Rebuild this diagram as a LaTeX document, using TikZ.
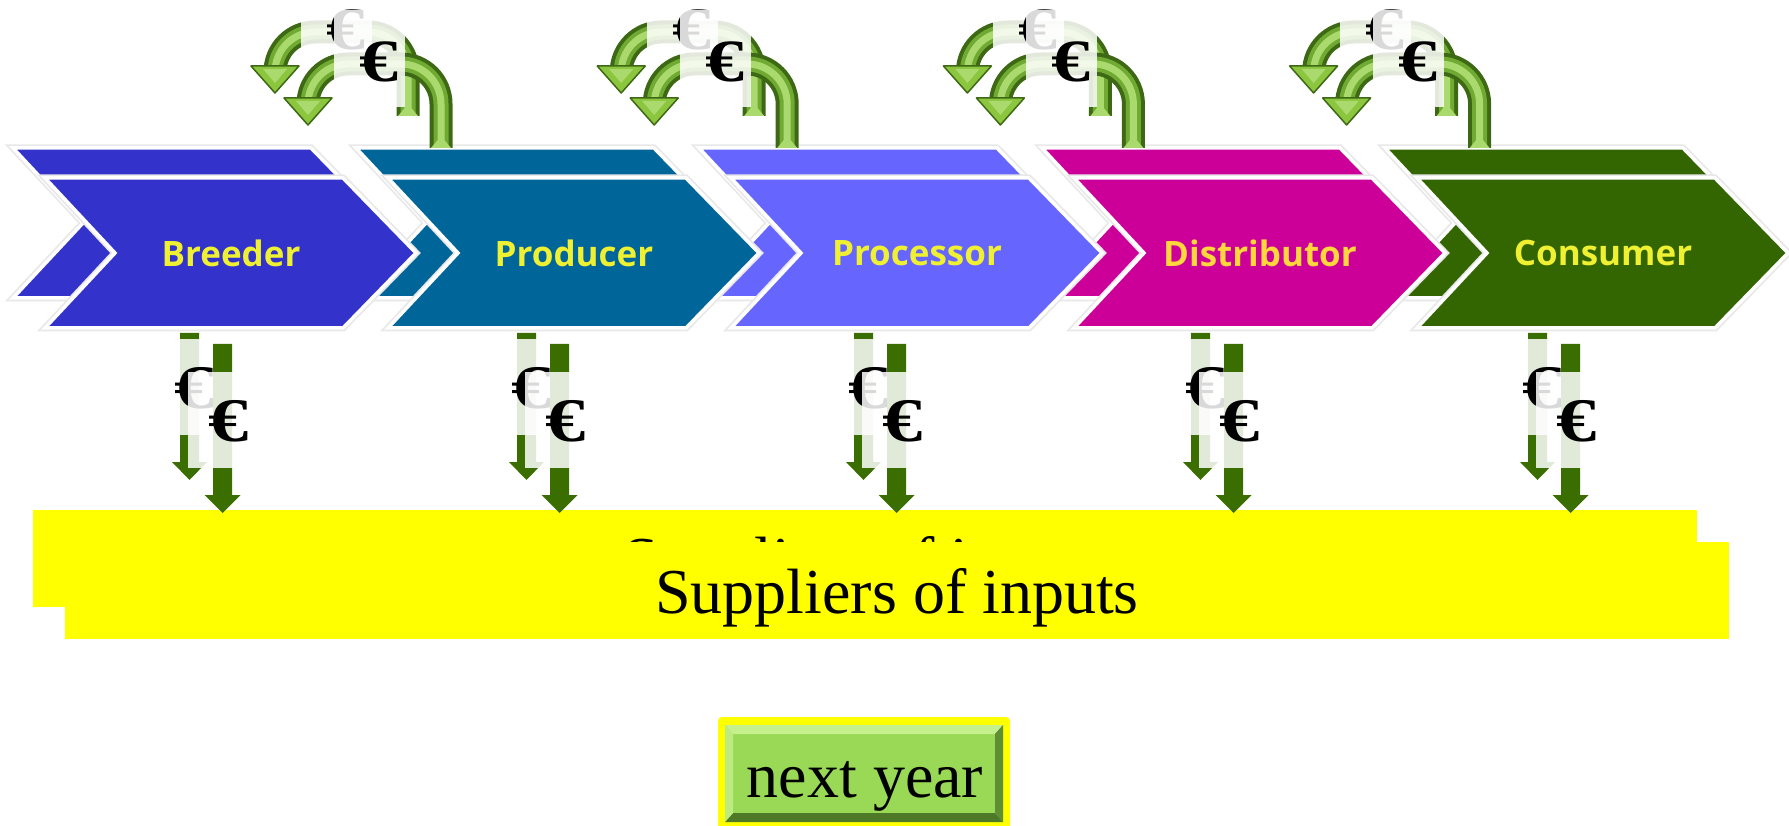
\documentclass[tikz,border=0pt]{standalone}
\usepackage{fontspec}
\setmainfont{Liberation Serif}
\newfontfamily\chevfont{Open Sans}
\definecolor{cA}{RGB}{51,51,204}
\definecolor{cB}{RGB}{0,102,153}
\definecolor{cC}{RGB}{102,102,255}
\definecolor{cD}{RGB}{204,0,153}
\definecolor{cE}{RGB}{51,102,0}
\definecolor{chevtext}{RGB}{240,240,50}
\definecolor{chevtextD}{RGB}{255,214,60}
\definecolor{tubedark}{RGB}{62,105,20}
\definecolor{tubemid}{RGB}{112,170,50}
\definecolor{tubelight}{RGB}{170,218,110}
\definecolor{headgreen}{RGB}{140,198,63}
\definecolor{downgreen}{RGB}{59,110,0}
\definecolor{supyellow}{RGB}{255,255,0}
\definecolor{btnmain}{RGB}{153,217,85}
\definecolor{btnlight}{RGB}{198,240,140}
\definecolor{btndark}{RGB}{78,122,40}
\definecolor{btnside}{RGB}{95,143,53}
\begin{document}
\begin{tikzpicture}[x=1pt,y=-1pt,
  glow/.style={draw=black!9, line width=7pt, line join=miter},
  chevline/.style={draw=white, line width=3.5pt, line join=miter},
  chevlabel/.style={font=\chevfont\bfseries\fontsize{35}{35}\selectfont, text=chevtext, inner sep=0pt},
  tubeA/.style={draw=tubedark, line width=23pt, rounded corners=40pt},
  tubeB/.style={draw=tubemid, line width=15pt, rounded corners=40pt},
  tubeC/.style={draw=tubelight, line width=7pt, rounded corners=40pt},
  headstyle/.style={fill=headgreen, draw=tubedark, line width=1.5pt, line join=round},
  veil/.style={fill=white, fill opacity=0.85},
  eurotop/.style={font=\bfseries\fontsize{60}{60}\selectfont, inner sep=0pt, xscale=1.3, transform shape},
  eurodown/.style={font=\bfseries\fontsize{62}{62}\selectfont, inner sep=0pt, xscale=1.3, transform shape},
  downarrow/.style={fill=downgreen},
  bigtext/.style={font=\fontsize{64}{64}\selectfont, inner sep=0pt, anchor=base}
]
\useasboundingbox (0,0) rectangle (1789,826);

% ---------- chevrons: ghost (back) layer ----------
\foreach \c [count=\i from 0] in {cA,cB,cC,cD,cE} {
  \pgfmathsetmacro{\L}{45+343*\i-32}
  \path[glow] (\L,148) -- ++(298,0) -- ++(73,75) -- ++(-73,75) -- ++(-298,0) -- ++(70,-75) -- cycle;
  \path[fill=\c, chevline] (\L,148) -- ++(298,0) -- ++(73,75) -- ++(-73,75) -- ++(-298,0) -- ++(70,-75) -- cycle;
}
% ---------- chevrons: front layer ----------
\foreach \c [count=\i from 0] in {cA,cB,cC,cD,cE} {
  \pgfmathsetmacro{\L}{45+343*\i}
  \path[glow] (\L,178) -- ++(298,0) -- ++(73,75) -- ++(-73,75) -- ++(-298,0) -- ++(70,-75) -- cycle;
  \path[fill=\c, chevline] (\L,178) -- ++(298,0) -- ++(73,75) -- ++(-73,75) -- ++(-298,0) -- ++(70,-75) -- cycle;
}
\node[chevlabel] (breeder) at (231,253) {Breeder};
\node[chevlabel] (producer) at (574,253) {Producer};
\node[chevlabel] (processor) at (917,253) {Processor};
\node[chevlabel, text=chevtextD] (distributor) at (1260,253) {Distributor};
\node[chevlabel] (consumer) at (1603,253) {Consumer};

% ---------- suppliers bar ----------
\fill[supyellow] (33,510) rectangle (1697,607);
\node[bigtext] (supghost) at (865,581) {Suppliers of inputs};
\fill[supyellow] (65,542) rectangle (1729,639);
\node[bigtext] (suppliers) at (897,613) {Suppliers of inputs};

% ---------- curved money arrows (top) ----------
\foreach \s [count=\k] in {441,787.2,1133.4,1479.6} {
  \foreach \dx/\dy/\nm in {-33/-32/g,0/0/f} {
    \coordinate (ta\nm\k) at (\s+\dx,148+\dy);
    \coordinate (tb\nm\k) at (\s+\dx,64+\dy);
    \coordinate (tc\nm\k) at (\s+\dx-133,64+\dy);
    \coordinate (td\nm\k) at (\s+\dx-133,100+\dy);
    \draw[tubeA] (ta\nm\k) -- (tb\nm\k) -- (tc\nm\k) -- (td\nm\k);
    \draw[tubeB] (ta\nm\k) -- (tb\nm\k) -- (tc\nm\k) -- (td\nm\k);
    \draw[tubeC] (ta\nm\k) -- (tb\nm\k) -- (tc\nm\k) -- (td\nm\k);
    \fill[tubelight] (\s+\dx-10,148+\dy) -- (\s+\dx+10,148+\dy) -- (\s+\dx,136+\dy) -- cycle;
    \path[headstyle] (\s+\dx-157,98+\dy) -- (\s+\dx-109,98+\dy) -- (\s+\dx-133,125+\dy) -- cycle;
    \fill[tubelight] (\s+\dx-145,101+\dy) -- (\s+\dx-121,101+\dy) -- (\s+\dx-133,115+\dy) -- cycle;
    \fill[veil] (\s+\dx-107,10+\dy) rectangle (\s+\dx-36,107+\dy);
    \node[eurotop] (et\nm\k) at (\s+\dx-62,62+\dy) {€};
  }
}

% ---------- down money arrows ----------
\foreach \d [count=\k] in {222.5,559.5,896.5,1233.5,1570.5} {
  % ghost
  \pgfmathsetmacro{\g}{\d-33}
  \coordinate (dg\k) at (\g,333);
  \path[downarrow] (\g-9.5,333) -- (\g+9.5,333) -- (\g+9.5,462) -- (\g+17.5,462) -- (\g,480) -- (\g-17.5,462) -- (\g-9.5,462) -- cycle;
  \fill[veil] (\g-35,339) rectangle (\g+10,435);
  \node[eurodown] (edg\k) at (\g+5,388) {€};
  % front
  \coordinate (df\k) at (\d,344);
  \path[downarrow] (\d-9.5,344) -- (\d+9.5,344) -- (\d+9.5,495) -- (\d+18,495) -- (\d,513) -- (\d-18,495) -- (\d-9.5,495) -- cycle;
  \fill[veil] (\d-35,372) rectangle (\d+10,468);
  \node[eurodown] (edf\k) at (\d+6,421) {€};
}

% ---------- next year button ----------
\fill[supyellow, rounded corners=4pt] (718,717) rectangle (1010,830);
\fill[btnmain] (725,725) rectangle (1003,822);
\fill[btnlight] (725,725) -- (1003,725) -- (995,734) -- (733,734) -- cycle;
\fill[btndark] (725,822) -- (1003,822) -- (995,813) -- (733,813) -- cycle;
\fill[btnlight!80!btnmain] (725,725) -- (733,734) -- (733,813) -- (725,822) -- cycle;
\fill[btnside] (1003,725) -- (995,734) -- (995,813) -- (1003,822) -- cycle;
\node[bigtext] (nextyear) at (865,797) {next year};
\end{tikzpicture}
\end{document}
